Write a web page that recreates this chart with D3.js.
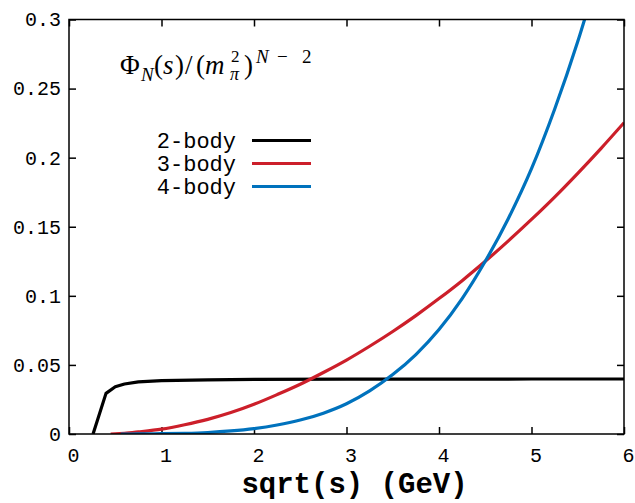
<!DOCTYPE html>
<html>
<head>
<meta charset="utf-8">
<script src="https://cdn.jsdelivr.net/npm/d3@7"></script>
<style>
  body { margin: 0; background: #fff; }
  .tick text { font-family: "Liberation Mono", "DejaVu Sans Mono", monospace; font-size: 20px; fill: #000; }
  .tick line { stroke: #000; stroke-width: 1.5; }
</style>
</head>
<body>
<svg id="chart" width="635" height="503"></svg>
<script>
// axis ticks
const xTicks = [0, 1, 2, 3, 4, 5, 6]
const yTicks = [0, 0.05, 0.1, 0.15, 0.2, 0.25, 0.3]
const yTickLabels = ['0', '0.05', '0.1', '0.15', '0.2', '0.25', '0.3']

// series
const seriesNames = ['2-body', '3-body', '4-body']
const seriesColors = ['#000000', '#cc1f2a', '#0072bd']

const sqrtS2 = [0.26, 0.4, 0.5, 0.6, 0.75, 1.0, 1.5, 2.0, 3.0, 4.0, 5.0, 6.0]
const phi2 = [0, 0.0294, 0.0342, 0.0362, 0.0377, 0.0386, 0.0392, 0.0395, 0.0397, 0.0397, 0.0398, 0.0398]

const sqrtS3 = [0.45, 0.5, 0.6, 0.75, 1.0, 1.25, 1.5, 1.75, 2.0, 2.25, 2.5, 2.75, 3.0, 3.25, 3.5, 3.75, 4.0, 4.25, 4.5, 4.75, 5.0, 5.25, 5.5, 5.75, 6.0]
const phi3 = [0, 0.0001, 0.0005, 0.0015, 0.0035, 0.0067, 0.0106, 0.0155, 0.0215, 0.0285, 0.036, 0.0445, 0.0535, 0.0635, 0.0742, 0.0857, 0.098, 0.111, 0.125, 0.1398, 0.1553, 0.1715, 0.1887, 0.2066, 0.2253]

const sqrtS4 = [0.56, 0.75, 1.0, 1.25, 1.5, 1.75, 2.0, 2.25, 2.5, 2.75, 3.0, 3.25, 3.5, 3.75, 4.0, 4.25, 4.5, 4.75, 5.0, 5.25, 5.5, 5.75]
const phi4 = [0, 0.00003, 0.0002, 0.0005, 0.0011, 0.0022, 0.0039, 0.0065, 0.0101, 0.0151, 0.0219, 0.0312, 0.043, 0.0575, 0.0756, 0.098, 0.125, 0.156, 0.192, 0.235, 0.284, 0.34]

const series = [
  {name: seriesNames[0], color: seriesColors[0], xs: sqrtS2, ys: phi2, curve: d3.curveLinear},
  {name: seriesNames[1], color: seriesColors[1], xs: sqrtS3, ys: phi3, curve: d3.curveMonotoneX},
  {name: seriesNames[2], color: seriesColors[2], xs: sqrtS4, ys: phi4, curve: d3.curveMonotoneX}
]

const margin = {top: 19.5, right: 11, bottom: 69, left: 69}
const svg = d3.select('#chart')
const width = +svg.attr('width') - margin.left - margin.right
const height = +svg.attr('height') - margin.top - margin.bottom
const g = svg.append('g').attr('transform', `translate(${margin.left},${margin.top})`)

const x = d3.scaleLinear().domain([0, 6]).range([0, width])
const y = d3.scaleLinear().domain([0, 0.3]).range([height, 0])

// axes, ticks pointing inward
g.append('g')
  .attr('transform', `translate(0,${height})`)
  .call(d3.axisBottom(x).tickValues(xTicks).tickSize(-7).tickPadding(14).tickFormat(d3.format('d')))
  .call(a => a.select('.domain').remove())
  .selectAll('text').attr('dx', 4)

g.append('g')
  .call(d3.axisLeft(y).tickValues(yTicks).tickSize(-7).tickPadding(8).tickFormat((d, i) => yTickLabels[i]))
  .call(a => a.select('.domain').remove())

g.append('g')
  .call(d3.axisTop(x).tickValues(xTicks).tickSize(-7).tickFormat(''))
  .call(a => a.select('.domain').remove())

g.append('g')
  .attr('transform', `translate(${width},0)`)
  .call(d3.axisRight(y).tickValues(yTicks).tickSize(-7).tickFormat(''))
  .call(a => a.select('.domain').remove())

// curves
svg.append('clipPath').attr('id', 'plot-clip')
  .append('rect').attr('width', width).attr('height', height)

const line = d3.line()
const curves = g.append('g').attr('clip-path', 'url(#plot-clip)')
series.forEach(s => {
  curves.append('path')
    .datum(s.xs.map((v, i) => [v, s.ys[i]]))
    .attr('fill', 'none')
    .attr('stroke', s.color)
    .attr('stroke-width', 3.2)
    .attr('stroke-linejoin', 'round')
    .attr('d', line.curve(s.curve).x(d => x(d[0])).y(d => y(d[1])))
})

// frame
g.append('rect')
  .attr('width', width)
  .attr('height', height)
  .attr('fill', 'none')
  .attr('stroke', '#000')
  .attr('stroke-width', 1.5)

// legend
const legend = g.append('g').attr('transform', 'translate(167,121)')
series.forEach((s, i) => {
  const row = legend.append('g').attr('transform', `translate(0,${i * 23})`)
  row.append('text')
    .attr('x', 0)
    .attr('y', 0)
    .attr('dy', '0.32em')
    .attr('text-anchor', 'end')
    .style('font-family', '"Liberation Mono", monospace')
    .style('font-size', '22px')
    .text(s.name)
  row.append('line')
    .attr('x1', 16).attr('x2', 75)
    .attr('stroke', s.color)
    .attr('stroke-width', 3.2)
})

// formula label  Phi_N(s)/(m_pi^2)^(N-2)
const pieces = [
  {t: '\u03A6', x: 120, y: 74, size: 27, it: false},
  {t: 'N', x: 141, y: 81, size: 19, it: true},
  {t: '(', x: 154, y: 74, size: 27, it: false},
  {t: 's', x: 163, y: 74, size: 27, it: true},
  {t: ')', x: 175, y: 74, size: 27, it: false},
  {t: '/', x: 185, y: 74, size: 27, it: false},
  {t: '(', x: 196, y: 74, size: 27, it: false},
  {t: 'm', x: 205, y: 74, size: 27, it: true},
  {t: '2', x: 231, y: 62, size: 17, it: false},
  {t: '\u03C0', x: 230, y: 80, size: 18, it: true},
  {t: ')', x: 244, y: 74, size: 27, it: false},
  {t: 'N', x: 256, y: 63, size: 19, it: true},
  {t: '\u2212', x: 277, y: 63, size: 19, it: false},
  {t: '2', x: 302, y: 63, size: 19, it: false}
]
svg.append('g').selectAll('text')
  .data(pieces)
  .join('text')
  .attr('x', d => d.x)
  .attr('y', d => d.y)
  .style('font-family', '"Liberation Serif", "DejaVu Serif", serif')
  .style('font-size', d => d.size + 'px')
  .style('font-style', d => d.it ? 'italic' : 'normal')
  .text(d => d.t)

// x axis title
svg.append('text')
  .attr('x', margin.left + width / 2 + 8)
  .attr('y', 493)
  .attr('text-anchor', 'middle')
  .style('font-family', '"Liberation Mono", monospace')
  .style('font-size', '29px')
  .style('font-weight', 'bold')
  .text('sqrt(s) (GeV)')
</script>
</body>
</html>
